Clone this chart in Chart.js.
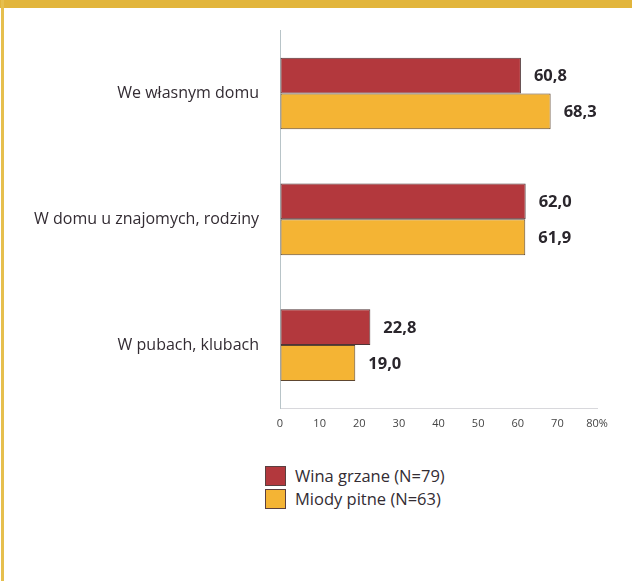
<!DOCTYPE html>
<html>
<head>
<meta charset="utf-8">
<script src="https://cdn.jsdelivr.net/npm/chart.js@4"></script>
<style>
  html, body { margin: 0; padding: 0; background: #fff; }
  body { width: 632px; height: 581px; position: relative; overflow: hidden; font-family: 'Open Sans', sans-serif; }
  .topband { position: absolute; left: 0; top: 0; width: 632px; height: 8px; background: #e2b53c; }
  .leftband { position: absolute; left: 1px; top: 0; width: 3px; height: 581px; background: #e6bf4e; }
  .wrap { position: absolute; left: 0; top: 0; width: 632px; height: 440px; }
  #legend { position: absolute; left: 265px; top: 464px; }
  .item { display: flex; align-items: center; height: 23px; font-size: 16.5px; color: #332c33; }
  .sw { width: 21px; height: 20px; border: 1px solid #5a4040; margin-right: 9px; box-sizing: border-box; }
</style>
</head>
<body>
<div class="topband"></div>
<div class="leftband"></div>
<div class="wrap"><canvas id="chart"></canvas></div>
<div id="legend"></div>
<script>
// categories and values (%)
const categories = ['We własnym domu', 'W domu u znajomych, rodziny', 'W pubach, klubach'];
const seriesNames = ['Wina grzane (N=79)', 'Miody pitne (N=63)'];
const winaGrzane = [60.8, 62.0, 22.8];
const miodyPitne = [68.3, 61.9, 19.0];
const tickValues = [0, 10, 20, 30, 40, 50, 60, 70, 80];

const colors = ['#b3383d', '#f4b434'];

// value labels at the bar ends
const valueLabels = {
  id: 'valueLabels',
  afterDatasetsDraw(chart) {
    const ctx = chart.ctx;
    ctx.save();
    ctx.font = 'bold 16.5px "Open Sans", sans-serif';
    ctx.fillStyle = '#2a262c';
    ctx.textBaseline = 'middle';
    chart.data.datasets.forEach((ds, i) => {
      chart.getDatasetMeta(i).data.forEach((bar, j) => {
        ctx.fillText(ds.data[j].toFixed(1).replace('.', ','), bar.x + 13, bar.y + 1);
      });
    });
    ctx.restore();
  }
};

new Chart(document.getElementById('chart'), {
  type: 'bar',
  data: {
    labels: categories,
    datasets: [
      { label: seriesNames[0], data: winaGrzane, backgroundColor: colors[0], borderColor: '#4e3436', borderWidth: 1, borderSkipped: false },
      { label: seriesNames[1], data: miodyPitne, backgroundColor: colors[1], borderColor: '#5e4630', borderWidth: 1, borderSkipped: false }
    ]
  },
  options: {
    indexAxis: 'y',
    responsive: true,
    maintainAspectRatio: false,
    animation: false,
    layout: { padding: { top: 27, right: 35, left: 0, bottom: 0 } },
    datasets: { bar: { barPercentage: 1.0, categoryPercentage: 0.57 } },
    plugins: { legend: { display: false }, tooltip: { enabled: false } },
    scales: {
      x: {
        min: 0, max: 80,
        afterBuildTicks(scale) { scale.ticks = tickValues.map(v => ({ value: v })); },
        afterFit(scale) { scale.height = 32; },
        grid: { drawOnChartArea: false, drawTicks: false },
        border: { display: true, color: '#d8d8dc', width: 1 },
        ticks: {
          padding: 9,
          color: '#444',
          font: { family: 'Open Sans', size: 11 },
          maxRotation: 0,
          callback: v => v === 80 ? '80%' : v
        }
      },
      y: {
        afterFit(scale) { scale.width = 280; },
        grid: { drawOnChartArea: false, drawTicks: false },
        border: { display: true, color: '#b8c4c8', width: 1 },
        ticks: {
          padding: 21,
          color: '#332c33',
          font: { family: 'Open Sans', size: 16 }
        }
      }
    }
  },
  plugins: [valueLabels]
});

// legend
const legend = document.getElementById('legend');
seriesNames.forEach((name, i) => {
  const row = document.createElement('div');
  row.className = 'item';
  row.innerHTML = '<span class="sw" style="background:' + colors[i] + '"></span><span>' + name + '</span>';
  legend.appendChild(row);
});
</script>
</body>
</html>
